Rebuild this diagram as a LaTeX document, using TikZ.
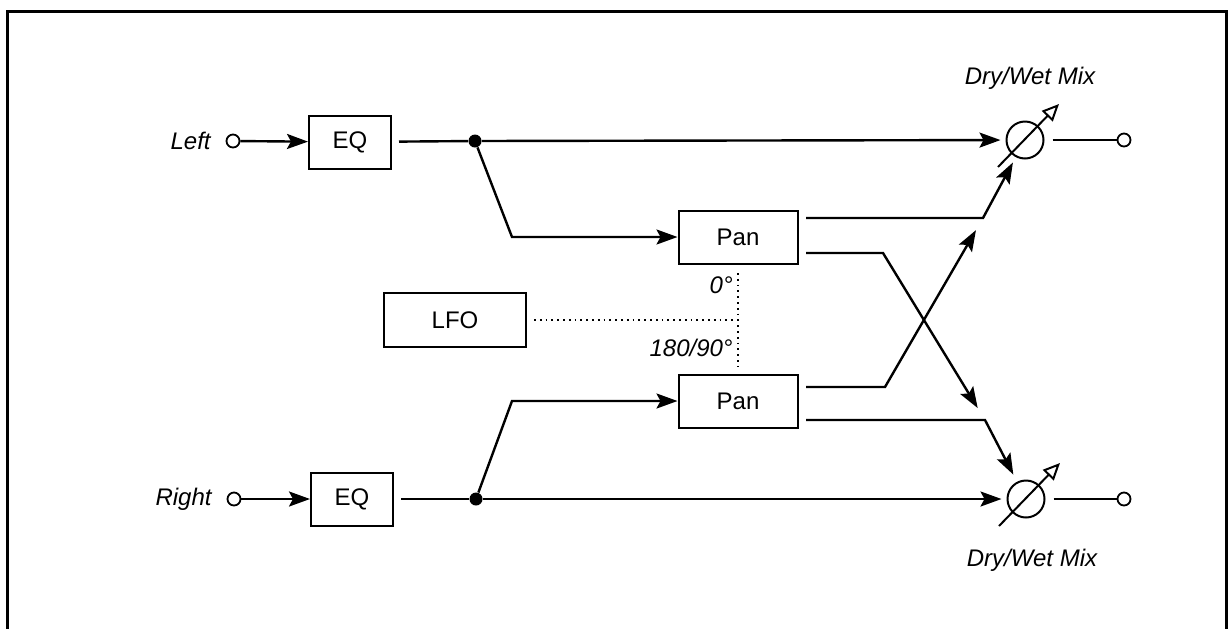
\documentclass[tikz,border=0pt]{standalone}
\usepackage{fontspec}
\setmainfont{Liberation Sans}
\usetikzlibrary{arrows.meta}

\begin{document}
\begin{tikzpicture}[x=0.5pt,y=-0.5pt,>={Stealth[length=10.5pt,width=7.5pt,inset=2pt]},
  box/.style={draw,line width=1pt,inner sep=0pt,minimum height=26.5pt,font=\fontsize{12}{14}\selectfont},
  term/.style={draw,circle,line width=0.9pt,inner sep=0pt,minimum size=6.5pt},
  junc/.style={fill,circle,inner sep=0pt,minimum size=6.5pt},
  mixer/.style={draw,circle,line width=1pt,inner sep=0pt,minimum size=18.5pt},
  lbl/.style={inner sep=0pt,font=\fontsize{12}{14}\selectfont\itshape},
  wire/.style={line width=1.2pt},
  knob/.style={line width=1pt,-{Triangle[open,length=8.5pt,width=7.5pt]}},
  lfoline/.style={dotted,line width=0.9pt}]
  \useasboundingbox (0,0) rectangle (1232,628);
  % frame
  \draw[line width=1.5pt] (7,660) -- (7,11) -- (1226,11) -- (1226,660);
  % inputs
  \node[lbl,anchor=east] (inL) at (211,141) {Left};
  \node[lbl,anchor=east] (inR) at (212,499) {Right};
  \node[term] (tL) at (233,141) {};
  \node[term] (tR) at (234,499) {};
  \node[box,minimum width=41pt] (eqL) at (350,142) {EQ};
  \node[box,minimum width=41pt] (eqR) at (352,499) {EQ};
  \node[junc] (jL) at (475,141) {};
  \node[junc] (jR) at (476,499) {};
  % pan and lfo
  \node[box,minimum width=59.5pt] (panT) at (738,237) {Pan};
  \node[box,minimum width=59.5pt] (panB) at (738,401) {Pan};
  \node[box,minimum width=71pt,minimum height=27pt] (lfo) at (455,320) {LFO};
  \node[lbl,anchor=east] (ph0) at (733,285) {0°};
  \node[lbl,anchor=east] (ph1) at (733,348) {180/90°};
  % mixers and outputs
  \node[mixer] (mixT) at (1025,140) {};
  \node[mixer] (mixB) at (1026,499) {};
  \node[term] (oT) at (1124,140) {};
  \node[term] (oB) at (1124,499) {};
  \node[lbl] (dwT) at (1030,78) {Dry/Wet Mix};
  \node[lbl] (dwB) at (1032,560) {Dry/Wet Mix};
  % bends
  \coordinate (kL) at (512,237);
  \coordinate (kR) at (512,401);
  \coordinate (pT1) at (806,218);
  \coordinate (pT2) at (806,253);
  \coordinate (pB1) at (806,387);
  \coordinate (pB2) at (806,420);
  \coordinate (qT1) at (983,218);
  \coordinate (qT2) at (883,253);
  \coordinate (qB1) at (885,387);
  \coordinate (qB2) at (985,420);
  \coordinate (tap) at (738,320);
  \coordinate (tap0) at (738,273);
  \coordinate (tap1) at (738,366);
  % wires
  \draw[wire,->] (tL) -- (eqL);
  \draw[wire,->] (tR) -- (eqR);
  \draw[wire,shorten <=3.5pt] (eqL) -- (jL);
  \draw[wire,shorten <=3.5pt] (eqR) -- (jR);
  \draw[wire,->,shorten >=2.5pt] (jL) -- (mixT);
  \draw[wire,->,shorten >=2.5pt] (jR) -- (mixB);
  \draw[wire,->] (jL) -- (kL) -- (panT);
  \draw[wire,->] (jR) -- (kR) -- (panB);
  \draw[wire,->,shorten >=3pt] (pT1) -- (qT1) -- (mixT);
  \draw[wire,->,shorten >=7pt] (pT2) -- (qT2) -- (qB2);
  \draw[wire,->,shorten >=7pt] (pB1) -- (qB1) -- (qT1);
  \draw[wire,->,shorten >=4pt] (pB2) -- (qB2) -- (mixB);
  \draw[wire,shorten <=4pt] (mixT) -- (oT);
  \draw[wire,shorten <=4pt] (mixB) -- (oB);
  \draw[knob] ([shift={(-27,27)}]mixT.center) -- ([shift={(34,-36)}]mixT.center);
  \draw[knob] ([shift={(-27,27)}]mixB.center) -- ([shift={(34,-36)}]mixB.center);
  % lfo
  \draw[lfoline,shorten <=3.5pt] (lfo) -- (tap);
  \draw[lfoline] (tap0) -- (tap1);
\end{tikzpicture}
\end{document}
